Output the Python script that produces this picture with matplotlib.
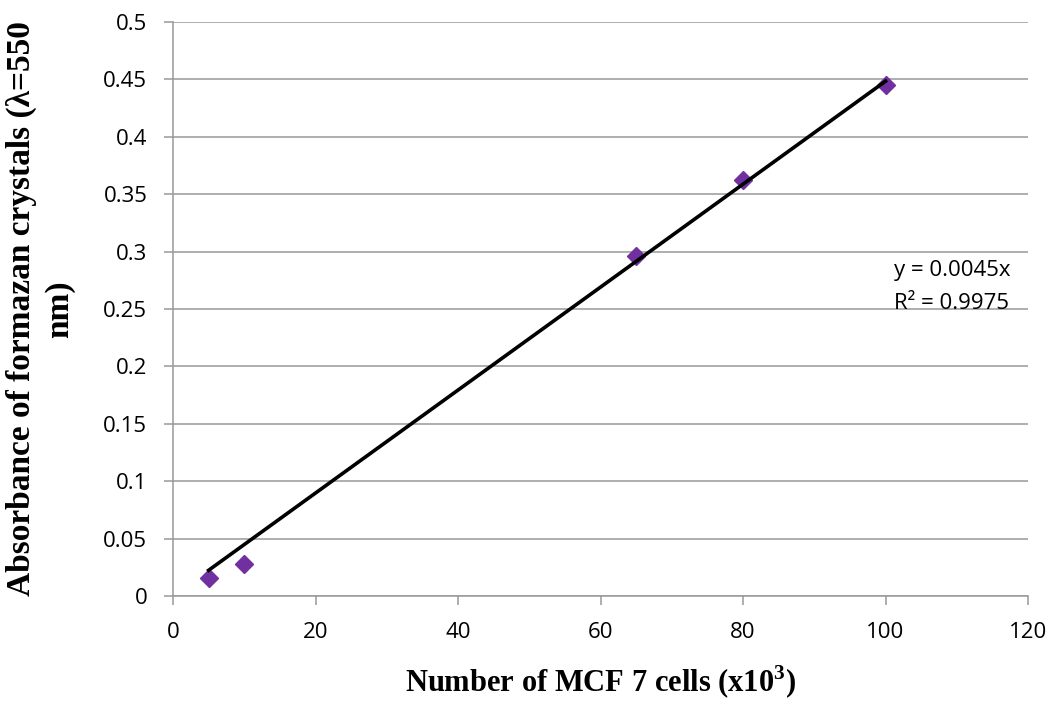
#import common libraries for plotting
import numpy as np
import matplotlib.pyplot as plt

#Measured data: cell number (x10^3) vs absorbance
cells = [5, 10, 65, 80, 100]
absorbance = [0.0157, 0.0279, 0.296, 0.362, 0.445]

x_ticks = [0, 20, 40, 60, 80, 100, 120]
y_ticks = [0, 0.05, 0.1, 0.15, 0.2, 0.25, 0.3, 0.35, 0.4, 0.45, 0.5]
y_tick_labels = ['0', '0.05', '0.1', '0.15', '0.2', '0.25', '0.3', '0.35', '0.4', '0.45', '0.5']

eq_text = 'y = 0.0045x\nR² = 0.9975'

grey = '#999999'

#Linear fit through origin (Excel style trendline)
xs = np.array(cells, dtype=float)
ys = np.array(absorbance)
slope = np.sum(xs * ys) / np.sum(xs * xs)

fig = plt.figure(figsize=(10.53, 7.04), dpi=100)
ax = fig.add_axes([0.1643, 0.1534, 0.812, 0.8153])

ax.set_xlim(0, 120)
ax.set_ylim(0, 0.5)
ax.set_axisbelow(True)
ax.yaxis.grid(True, color=grey, linewidth=1.1)

ax.plot(cells, absorbance, linestyle='none', marker='D', markersize=9,
        color='#7030A0', zorder=3)
ax.plot([xs[0], xs[-1]], [slope * xs[0], slope * xs[-1]], color='k',
        linewidth=2.6, zorder=4)

#Equation and R^2 label
ax.text(101.2, 0.293, eq_text, fontsize=16, family='Open Sans',
        va='top', ha='left', linespacing=1.8)

#Axes styling
for s in ['top', 'right']:
    ax.spines[s].set_visible(False)
for s in ['left', 'bottom']:
    ax.spines[s].set_color(grey)
    ax.spines[s].set_linewidth(1.1)
ax.set_xticks(x_ticks)
ax.set_yticks(y_ticks)
ax.set_yticklabels(y_tick_labels)
ax.tick_params(axis='both', length=6.5, width=1.1, color=grey, labelsize=16, pad=12)
for lab in ax.get_xticklabels() + ax.get_yticklabels():
    lab.set_fontfamily('Open Sans')

ax.set_xlabel('Number of MCF 7 cells (x10$^\\mathregular{3}$)', fontsize=22,
              family='Liberation Serif', fontweight='bold', labelpad=15)
ax.set_ylabel('Absorbance of formazan crystals (λ=550\nnm)', fontsize=24,
              family='Liberation Serif', fontweight='bold', labelpad=20,
              linespacing=1.3)

plt.savefig('out.png', dpi=100)
